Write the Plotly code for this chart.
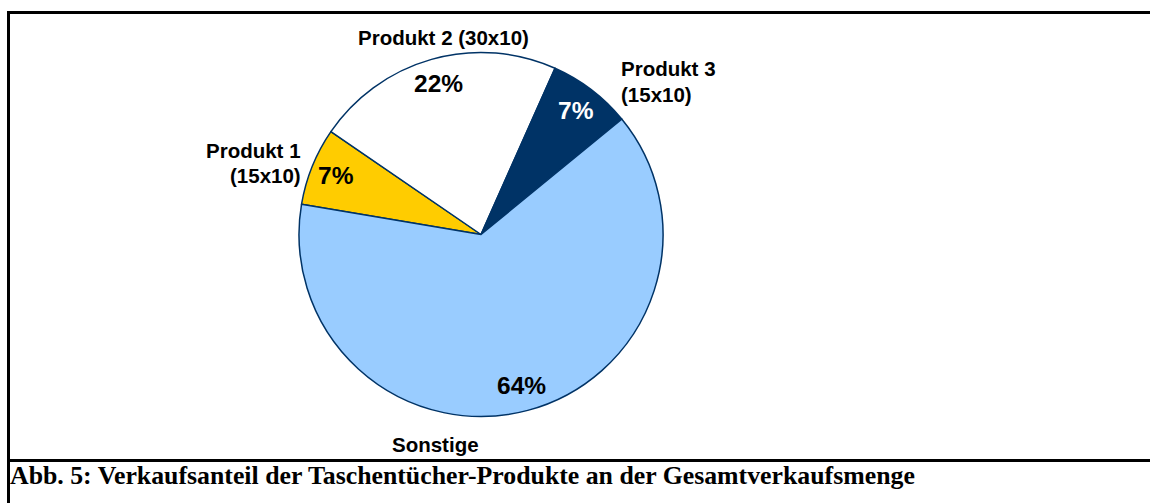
import math
import plotly.graph_objects as go

# ---- data ----
categories = ["Produkt 1 (15x10)", "Produkt 2 (30x10)", "Produkt 3 (15x10)", "Sonstige"]
label_lines = [["Produkt 1", "(15x10)"], ["Produkt 2 (30x10)"], ["Produkt 3", "(15x10)"], ["Sonstige"]]
shares = [6.9, 22.1, 7.4, 63.6]
slice_colors = ["#FFCC00", "#FFFFFF", "#003366", "#99CCFF"]
pct_colors = ["#000000", "#000000", "#FFFFFF", "#000000"]
caption = "Abb. 5: Verkaufsanteil der Taschentücher-Produkte an der Gesamtverkaufsmenge"

W, H = 1150, 503
CX, CY, R = 481.0, 234.5, 182.0      # pie centre / radius in px
START = 279.6                         # first slice start angle (deg, clockwise from 12 o'clock)

def px(x):
    return x / W

def py(y):
    return 1 - y / H

fig = go.Figure()
fig.add_trace(go.Pie(
    labels=categories,
    values=shares,
    sort=False,
    direction="clockwise",
    rotation=START - 360,
    marker=dict(colors=slice_colors, line=dict(color="#003366", width=1.5)),
    textinfo="none",
    hoverinfo="label+percent",
    domain=dict(x=[px(CX - R), px(CX + R)], y=[py(CY + R), py(CY - R)]),
    showlegend=False,
))

annotations = []
# percentage labels, placed along each slice's mid angle
total = sum(shares)
cum = 0.0
for v, c in zip(shares, pct_colors):
    mid = math.radians(START + (cum + v / 2) / total * 360)
    cum += v
    rr = 0.86 * R
    annotations.append(dict(
        x=px(CX + rr * math.sin(mid)), y=py(CY - rr * math.cos(mid)),
        xref="paper", yref="paper", showarrow=False,
        text=f"<b>{round(v / total * 100)}%</b>",
        font=dict(family="Liberation Sans, Arial", size=24.5, color=c),
        xanchor="center", yanchor="middle",
    ))

# category labels (placed as in the original, outside the pie)
label_pos = [
    [(302.7, 151, "right"), (302.7, 175, "right")],
    [(443.5, 38, "center")],
    [(619.3, 69, "left"), (619.3, 95, "left")],
    [(435.5, 444, "center")],
]
for lines, poss in zip(label_lines, label_pos):
    for t, (x, y, anc) in zip(lines, poss):
        annotations.append(dict(
            x=px(x), y=py(y), xref="paper", yref="paper", showarrow=False,
            text=f"<b>{t}</b>", xanchor=anc, yanchor="middle",
            font=dict(family="Liberation Sans, Arial", size=20.5, color="#000000"),
        ))

annotations.append(dict(
    x=px(8), y=py(475), xref="paper", yref="paper", showarrow=False,
    text=f"<b>{caption}</b>", xanchor="left", yanchor="middle",
    font=dict(family="Liberation Serif, Times New Roman", size=25.8, color="#000000"),
))

frame = dict(color="#000000", width=3)
shapes = [
    dict(type="line", xref="paper", yref="paper",   # top edge
         x0=px(7), x1=px(1160), y0=py(12.5), y1=py(12.5), line=frame),
    dict(type="line", xref="paper", yref="paper",   # left edge
         x0=px(8.5), x1=px(8.5), y0=py(11), y1=py(510), line=frame),
    dict(type="line", xref="paper", yref="paper",   # caption divider
         x0=px(8.5), x1=px(1160), y0=py(460.5), y1=py(460.5), line=frame),
]

fig.update_layout(
    width=W, height=H, autosize=False,
    margin=dict(l=0, r=0, t=0, b=0),
    paper_bgcolor="#FFFFFF", plot_bgcolor="#FFFFFF",
    annotations=annotations, shapes=shapes,
    showlegend=False,
)

fig.write_html(
    "out.html",
    config={"displayModeBar": False},
    post_script="document.body.style.margin='0';document.body.style.overflow='hidden';",
)
